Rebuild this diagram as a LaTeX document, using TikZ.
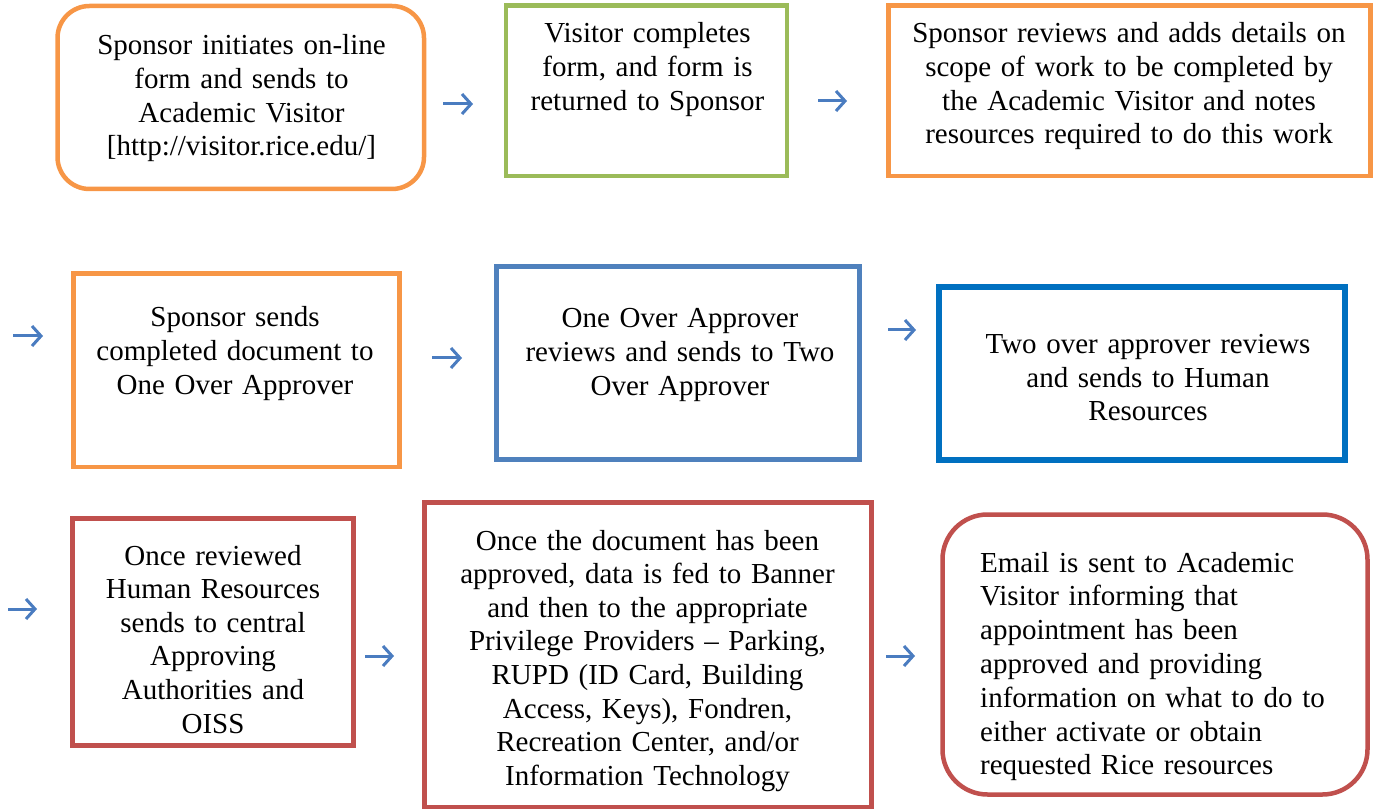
\documentclass[tikz,border=0pt]{standalone}
\usepackage{fontspec}
\setmainfont{Liberation Serif}
\usetikzlibrary{arrows.meta}
\definecolor{corange}{HTML}{F79646}
\definecolor{cgreen}{HTML}{9BBB59}
\definecolor{cblue}{HTML}{4F81BD}
\definecolor{cdblue}{HTML}{0070C0}
\definecolor{cred}{HTML}{C0504D}
\definecolor{carrow}{HTML}{4A7CC0}
\tikzset{
  box/.style={draw=#1, line width=4.5pt, inner sep=0pt, fill=none},
  txt/.style={inner sep=0pt, text width=480pt, align=center, anchor=base,
    font=\fontsize{29}{33.6}\selectfont},
  ltxt/.style={inner sep=0pt, text width=400pt, align=left, anchor=base west,
    font=\fontsize{29}{33.8}\selectfont},
  flow/.style={draw=carrow, line width=3pt, -{Straight Barb[length=9pt,width=20pt,line width=3pt]}},
}
\begin{document}
\begin{tikzpicture}[x=1pt,y=-1pt]
\useasboundingbox (0,0) rectangle (1374,810);
% boxes
\node[box=corange, rounded corners=32pt, minimum width=366.5pt, minimum height=183pt] (b1) at (240.75,97.5) {};
\node[box=cgreen, minimum width=281pt, minimum height=170.5pt] (b2) at (646.5,90.75) {};
\node[box=corange, minimum width=482pt, minimum height=170.5pt] (b3) at (1129.5,90.75) {};
\node[box=corange, minimum width=326pt, minimum height=193.5pt] (b4) at (236.5,370.25) {};
\node[box=cblue, minimum width=363pt, minimum height=193pt] (b5) at (678,363) {};
\node[box=cdblue, line width=6pt, minimum width=406pt, minimum height=173pt] (b6) at (1142,373.5) {};
\node[box=cred, minimum width=281pt, minimum height=227pt] (b7) at (213,632) {};
\node[box=cred, minimum width=447pt, minimum height=304.5pt] (b8) at (648,654.75) {};
\node[box=cred, rounded corners=45pt, minimum width=425pt, minimum height=280pt] (b9) at (1155,654.5) {};
% texts
\node[txt] (t1) at (241.5,55) {Sponsor initiates on-line\\form and sends to\\Academic Visitor\\{[}http://visitor.rice.edu/{]}};
\node[txt] (t2) at (647.5,43) {Visitor completes\\form, and form is\\returned to Sponsor};
\node[txt] (t3) at (1129,43) {Sponsor reviews and adds details on\\scope of work to be completed by\\the Academic Visitor and notes\\resources required to do this work};
\node[txt] (t4) at (235,327) {Sponsor sends\\completed document to\\One Over Approver};
\node[txt] (t5) at (680,328) {One Over Approver\\reviews and sends to Two\\Over Approver};
\node[txt] (t6) at (1148,353.5) {Two over approver reviews\\and sends to Human\\Resources};
\node[txt] (t7) at (213,565) {Once reviewed\\Human Resources\\sends to central\\Approving\\Authorities and\\OISS};
\node[txt] (t8) at (647.5,550) {Once the document has been\\approved, data is fed to Banner\\and then to the appropriate\\Privilege Providers -- Parking,\\RUPD (ID Card, Building\\Access, Keys), Fondren,\\Recreation Center, and/or\\Information Technology};
\node[ltxt] (t9) at (980,572) {Email is sent to Academic\\Visitor informing that\\appointment has been\\approved and providing\\information on what to do to\\either activate or obtain\\requested Rice resources};
% arrows
\coordinate (a1s) at (443,104); \coordinate (a1e) at (473,104);
\coordinate (a2s) at (818,101); \coordinate (a2e) at (847,101);
\coordinate (a3s) at (13,336);  \coordinate (a3e) at (43,336);
\coordinate (a4s) at (432,358); \coordinate (a4e) at (462,358);
\coordinate (a5s) at (888,330); \coordinate (a5e) at (916,330);
\coordinate (a6s) at (8,609);   \coordinate (a6e) at (37,609);
\coordinate (a7s) at (365,656); \coordinate (a7e) at (394,656);
\coordinate (a8s) at (886,656); \coordinate (a8e) at (915,656);
\foreach \i in {1,...,8} { \draw[flow] (a\i s) -- (a\i e); }
\end{tikzpicture}
\end{document}
